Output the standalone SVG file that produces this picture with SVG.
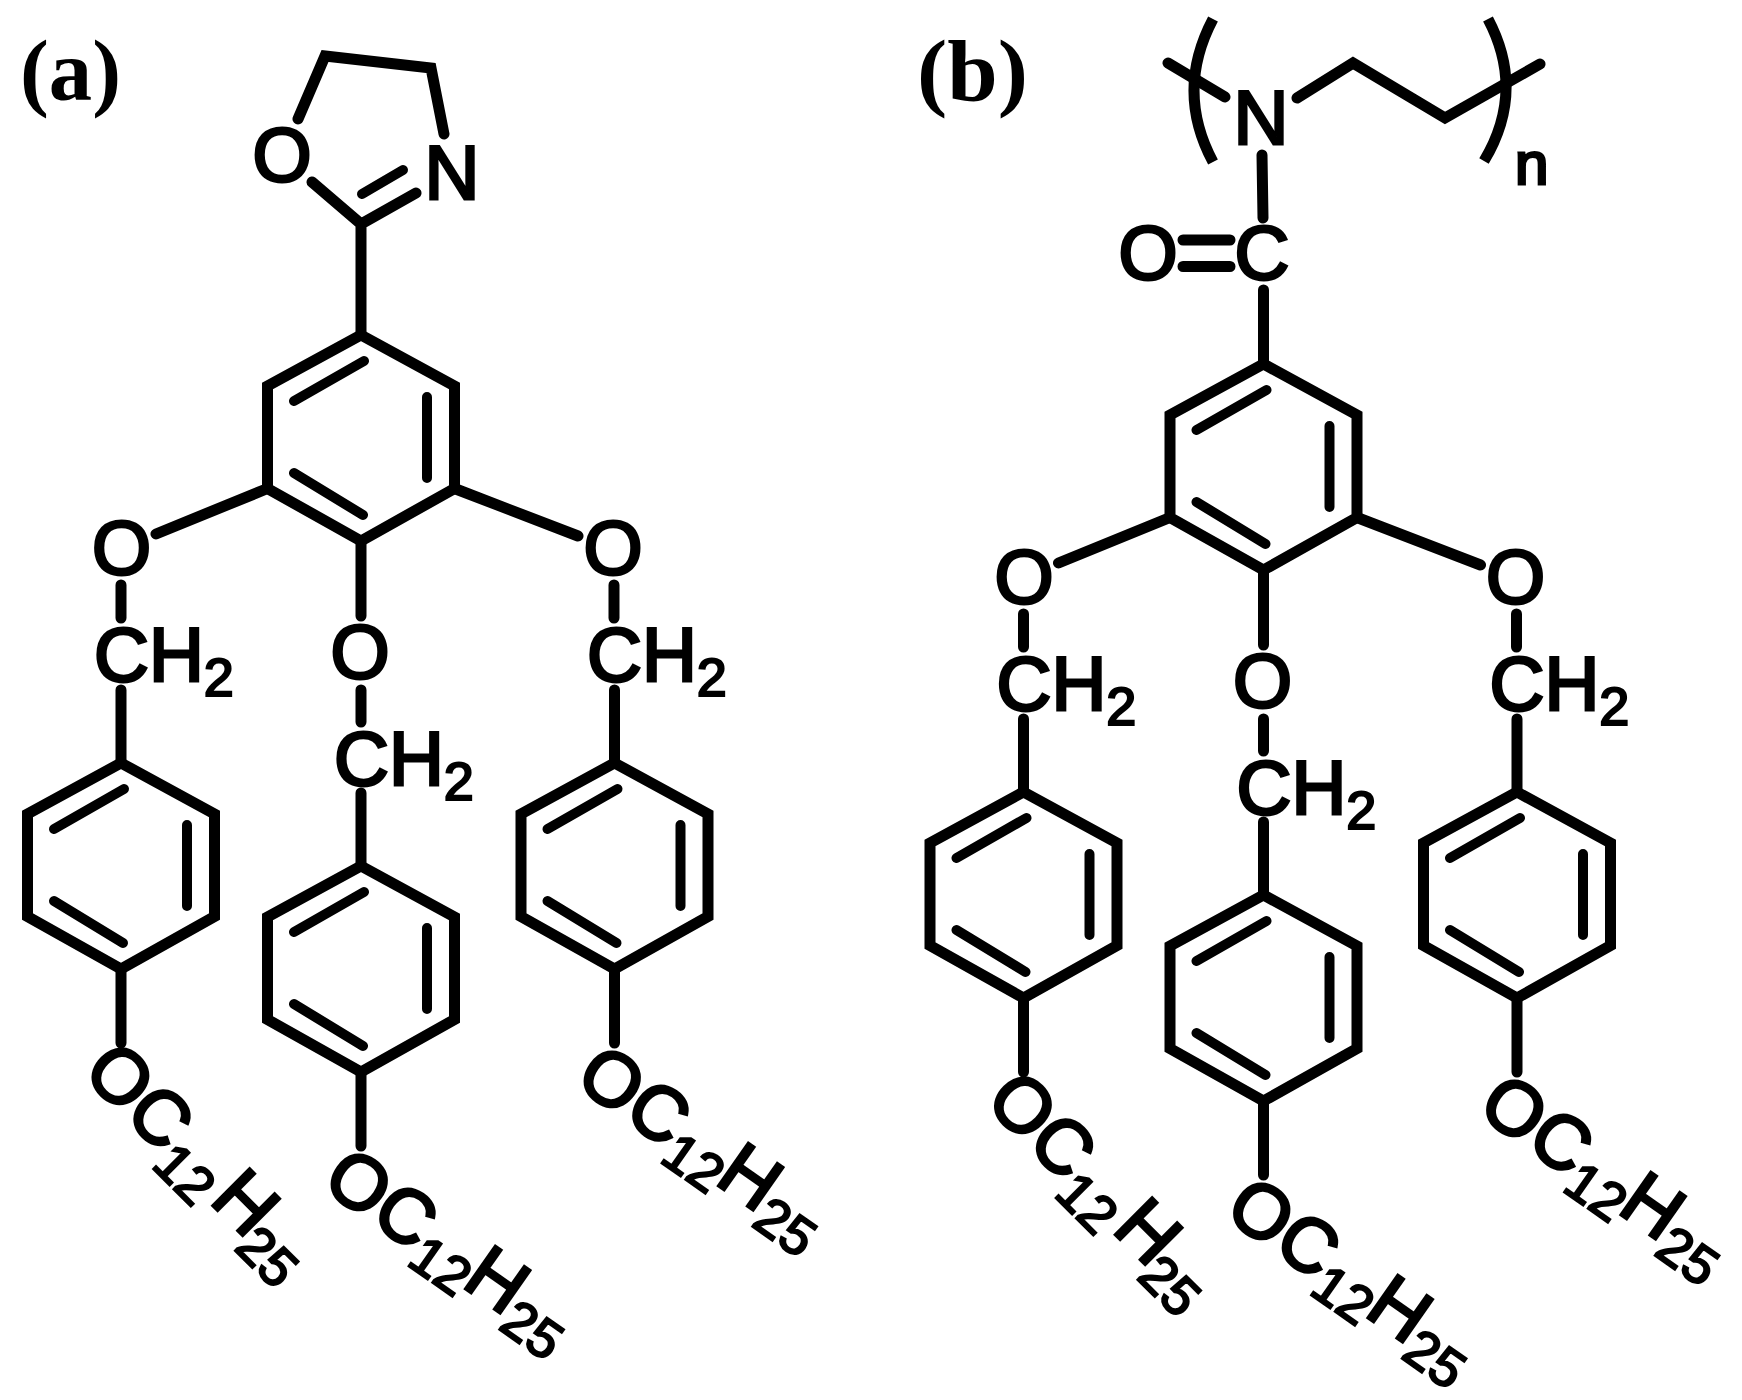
<svg xmlns="http://www.w3.org/2000/svg" width="1742" height="1400" viewBox="0 0 1742 1400">
<style>
.bg{fill:#fff}
.b{fill:none;stroke:#000;stroke-width:11;stroke-linecap:round;stroke-linejoin:miter}
.i{fill:none;stroke:#000;stroke-width:10;stroke-linecap:round}
.t{font-family:"Liberation Sans",Arial,sans-serif;font-size:76px;fill:#000;stroke:#000;stroke-width:3}
.m{text-anchor:middle}
.s{font-size:54px;stroke-width:2.200}
.n{font-size:60px}
.l{font-family:"Liberation Serif","Times New Roman",serif;font-weight:bold;font-size:86px;fill:#000}
</style>
<rect class="bg" width="1742" height="1400"/>
<text id="label-a" class="l" x="20" y="100" textLength="101" lengthAdjust="spacingAndGlyphs">(a)</text>
<text id="label-b" class="l" x="917" y="100" textLength="111" lengthAdjust="spacingAndGlyphs">(b)</text>
<g id="oxazoline">
<g id="connectors-oxazoline">
<path class="b" d="M312 182L361 224L416 193M298 119L325 56L431 68L444 134M361 224V335"/>
<path class="i" d="M362 194L403 170"/>
</g>
<text class="t m" x="282" y="181">O</text>
<text class="t m" x="452" y="199">N</text>
</g>
<g id="polymer">
<g id="connectors-polymer">
<path class="b" d="M1168 63L1225 97M1297 98L1353 63L1445 118L1540 64M1262 155L1263 218M1263.500 290V364"/>
<path class="b" d="M1183 240H1230M1183 266.500H1230"/>
<path class="b" style="stroke-linecap:butt" d="M1213 19Q1175 91 1213 162M1488 19Q1526 91 1484 161"/>
</g>
<text class="t m" x="1261" y="144">N</text>
<text class="t m" x="1148" y="279">O</text>
<text class="t m" x="1262" y="279">C</text>
<text class="t n" x="1515" y="184">n</text>
</g>
<g id="molecule-a">
<g id="connectors-a">
<path class="b" d="M361 335L454.500 386V488.500L361 541L267.500 488.500V386Z"/>
<path class="i" d="M364 361L294 401M427 397V478M294 473L363 515"/>
<path class="b" d="M267.500 488.500L156 534M454.500 488.500L578 536M361 541V616"/>
<path class="b" d="M121 585V618M614 585V618M361 690V722"/>
<path class="b" d="M121 690V763M614.500 690V763M361 793V866"/>
<path class="b" d="M121 763L214.500 814V916.500L121 969L27.500 916.500V814Z"/>
<path class="i" d="M124 789L54 829M187 825V906M54 901L123 943"/>
<path class="b" d="M361 866L454.500 917V1019.500L361 1072L267.500 1019.500V917Z"/>
<path class="i" d="M364 892L294 932M427 928V1009M294 1004L363 1046"/>
<path class="b" d="M614.500 763L708 814V916.500L614.500 969L521 916.500V814Z"/>
<path class="i" d="M617.500 789L547.500 829M680.500 825V906M547.500 901L616.500 943"/>
<path class="b" d="M121 969V1043M361 1072V1146M614.500 969V1043"/>
</g>
<text class="t m" x="121.500" y="574">O</text>
<text class="t m" x="613" y="574">O</text>
<text class="t m" x="360" y="678">O</text>
<text class="t" x="94" y="681">CH<tspan class="s" dy="15">2</tspan></text>
<text class="t" x="587" y="681">CH<tspan class="s" dy="15">2</tspan></text>
<text class="t" x="334" y="785">CH<tspan class="s" dy="15">2</tspan></text>
<text class="t" transform="translate(81 1074) rotate(45)">OC<tspan class="s" dy="16">12</tspan><tspan dx="6" dy="-16">H</tspan><tspan class="s" dx="-4" dy="16">25</tspan></text>
<text class="t" transform="translate(320 1187) rotate(35)">OC<tspan class="s" dy="14">12</tspan><tspan dx="-3" dy="-14">H</tspan><tspan class="s" dy="14">25</tspan></text>
<text class="t" transform="translate(573 1084) rotate(35)">OC<tspan class="s" dy="14">12</tspan><tspan dx="-3" dy="-14">H</tspan><tspan class="s" dy="14">25</tspan></text>
</g>
<g id="molecule-b" transform="translate(902.500 29)">
<g id="connectors-b">
<path class="b" d="M361 335L454.500 386V488.500L361 541L267.500 488.500V386Z"/>
<path class="i" d="M364 361L294 401M427 397V478M294 473L363 515"/>
<path class="b" d="M267.500 488.500L156 534M454.500 488.500L578 536M361 541V616"/>
<path class="b" d="M121 585V618M614 585V618M361 690V722"/>
<path class="b" d="M121 690V763M614.500 690V763M361 793V866"/>
<path class="b" d="M121 763L214.500 814V916.500L121 969L27.500 916.500V814Z"/>
<path class="i" d="M124 789L54 829M187 825V906M54 901L123 943"/>
<path class="b" d="M361 866L454.500 917V1019.500L361 1072L267.500 1019.500V917Z"/>
<path class="i" d="M364 892L294 932M427 928V1009M294 1004L363 1046"/>
<path class="b" d="M614.500 763L708 814V916.500L614.500 969L521 916.500V814Z"/>
<path class="i" d="M617.500 789L547.500 829M680.500 825V906M547.500 901L616.500 943"/>
<path class="b" d="M121 969V1043M361 1072V1146M614.500 969V1043"/>
</g>
<text class="t m" x="121.500" y="574">O</text>
<text class="t m" x="613" y="574">O</text>
<text class="t m" x="360" y="678">O</text>
<text class="t" x="94" y="681">CH<tspan class="s" dy="15">2</tspan></text>
<text class="t" x="587" y="681">CH<tspan class="s" dy="15">2</tspan></text>
<text class="t" x="334" y="785">CH<tspan class="s" dy="15">2</tspan></text>
<text class="t" transform="translate(81 1074) rotate(45)">OC<tspan class="s" dy="16">12</tspan><tspan dx="6" dy="-16">H</tspan><tspan class="s" dx="-4" dy="16">25</tspan></text>
<text class="t" transform="translate(320 1187) rotate(35)">OC<tspan class="s" dy="14">12</tspan><tspan dx="-3" dy="-14">H</tspan><tspan class="s" dy="14">25</tspan></text>
<text class="t" transform="translate(573 1084) rotate(35)">OC<tspan class="s" dy="14">12</tspan><tspan dx="-3" dy="-14">H</tspan><tspan class="s" dy="14">25</tspan></text>
</g>
</svg>
